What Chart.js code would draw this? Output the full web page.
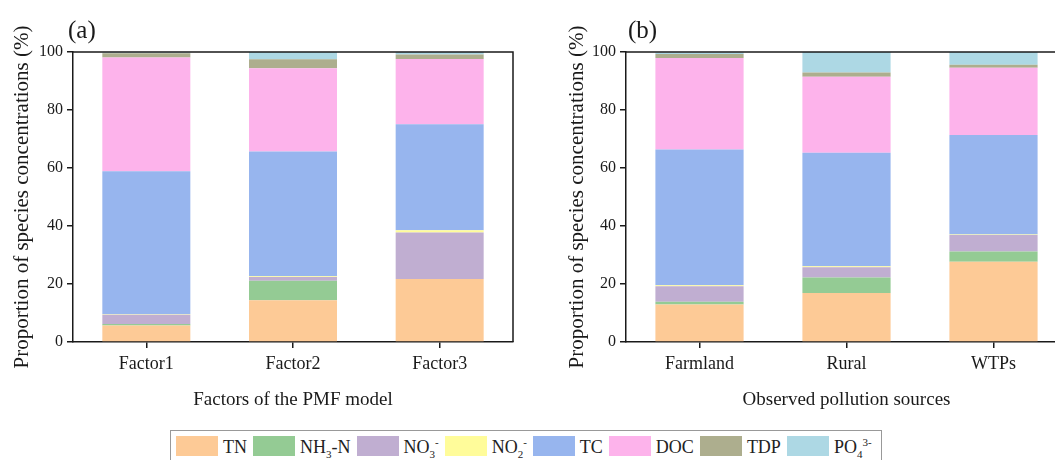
<!DOCTYPE html>
<html>
<head>
<meta charset="utf-8">
<script src="https://cdn.jsdelivr.net/npm/chart.js@4"></script>
<style>
html,body{margin:0;overflow:hidden;}
body{width:1055px;height:460px;background:#fff;position:relative;font-family:"Liberation Serif",serif;}
#chartA{position:absolute;left:0;top:0;}
#clipB{position:absolute;left:527px;top:0;width:528px;height:425px;overflow:hidden;}
#chartB{position:absolute;left:0;top:0;}
#legend{position:absolute;left:170px;top:430px;width:712px;height:34px;border:1px solid #999;box-sizing:border-box;display:flex;align-items:flex-start;padding:5px 0 0 5px;color:#222;font-size:18px;line-height:22px;}
#legend .item{display:flex;align-items:flex-start;margin-right:6px;white-space:nowrap;}
#legend .sw{width:42px;height:20px;margin-right:5px;}
#legend sub,#legend sup{font-size:11px;line-height:0;}
</style>
</head>
<body>
<canvas id="chartA" width="527" height="425"></canvas>
<div id="clipB"><canvas id="chartB" width="580" height="425"></canvas></div>
<div id="legend"></div>
<script>

const species = ['TN','NH₃-N','NO₃⁻','NO₂⁻','TC','DOC','TDP','PO₄³⁻'];
const speciesHtml = ['TN','NH<sub>3</sub>-N','NO<sub>3</sub><sup>-</sup>','NO<sub>2</sub><sup>-</sup>','TC','DOC','TDP','PO<sub>4</sub><sup>3-</sup>'];
const colors = ['#FDCA96','#94CB94','#C0AED1','#FFFC9A','#97B5EE','#FDB3EB','#ADAE8E','#ADD8E4'];

const factors = ['Factor1','Factor2','Factor3'];
const sources = ['Farmland','Rural','WTPs'];
const yTicks = [0,20,40,60,80,100];

// panel (a): PMF factor profiles, % per species, bottom to top
const tnA  = [5.7, 14.4, 21.7];
const nh3A = [0.5, 6.7, 0];
const no3A = [3.2, 1.3, 16.1];
const no2A = [0.2, 0.3, 0.7];
const tcA  = [49.3, 43.0, 36.6];
const docA = [39.2, 28.7, 22.5];
const tdpA = [1.5, 3.1, 1.5];
const po4A = [0.2, 2.5, 0.9];

// panel (b): observed sources
const tnB  = [12.9, 16.9, 27.7];
const nh3B = [1.0, 5.3, 3.5];
const no3B = [5.3, 3.6, 5.7];
const no2B = [0.4, 0.3, 0.2];
const tcB  = [46.8, 39.2, 34.3];
const docB = [31.5, 26.2, 23.2];
const tdpB = [1.4, 1.4, 1.0];
const po4B = [0.5, 7.1, 4.4];

const seriesA = [tnA,nh3A,no3A,no2A,tcA,docA,tdpA,po4A];
const seriesB = [tnB,nh3B,no3B,no2B,tcB,docB,tdpB,po4B];

const serif = '"Liberation Serif", "Times New Roman", serif';
const ink = '#1a1a1a';

const frame = {
id:'frame',
afterDatasetsDraw(chart,args,opts){
const a=chart.chartArea;
const c=chart.ctx;
c.save();
c.strokeStyle=ink;
c.lineWidth=1.5;
c.beginPath();
c.moveTo(a.left,a.top);
c.lineTo(a.right,a.top);
if(opts.right) c.lineTo(a.right,a.bottom);
c.stroke();
c.fillStyle=ink;
c.font='25px '+serif;
c.textBaseline='alphabetic';
c.fillText(opts.tag,opts.tagX,38);
c.restore();
}
};

function makeChart(id,cats,series,xTitle,tag,yWidth,yTitlePad,padRight,tagX,rightLine){
return new Chart(document.getElementById(id),{
type:'bar',
data:{
labels:cats,
datasets:series.map((d,i)=>({
label:species[i],
data:d,
backgroundColor:colors[i],
borderWidth:0,
barPercentage:0.6,
categoryPercentage:1
}))
},
options:{
responsive:false,
animation:false,
devicePixelRatio:1,
layout:{padding:{left:0,top:52,right:padRight,bottom:0}},
plugins:{legend:{display:false},tooltip:{enabled:false},frame:{tag:tag,tagX:tagX,right:rightLine}},
scales:{
x:{
stacked:true,
afterFit:s=>{s.height=83;},
grid:{offset:false,drawOnChartArea:false,drawTicks:true,tickLength:6,color:ink,lineWidth:1.5},
border:{display:true,color:ink,width:1.5},
ticks:{color:ink,font:{family:serif,size:18},padding:5},
title:{display:true,text:xTitle,color:ink,font:{family:serif,size:19},padding:{top:0,bottom:14}}
},
y:{
stacked:true,
min:0,max:100,
afterFit:s=>{s.width=yWidth;},
afterBuildTicks:s=>{s.ticks=yTicks.map(v=>({value:v}));},
grid:{drawOnChartArea:false,drawTicks:true,tickLength:6,color:ink,lineWidth:1.5},
border:{display:true,color:ink,width:1.5},
ticks:{color:ink,font:{family:serif,size:16},padding:4},
title:{display:true,text:'Proportion of species concentrations (%)',color:ink,font:{family:serif,size:21},padding:{top:yTitlePad,bottom:0}}
}
}
},
plugins:[frame]
});
}

makeChart('chartA',factors,seriesA,'Factors of the PMF model','(a)',73,10,14,68,true);
// panel (b) runs past the right edge of the picture, as in the source figure
makeChart('chartB',sources,seriesB,'Observed pollution sources','(b)',99,38,40,101,false);

const legend=document.getElementById('legend');
speciesHtml.forEach((t,i)=>{
let item=document.createElement('div');
item.className='item';
item.innerHTML='<div class="sw" style="background:'+colors[i]+'"></div><span>'+t+'</span>';
legend.appendChild(item);
});

</script>
</body>
</html>
